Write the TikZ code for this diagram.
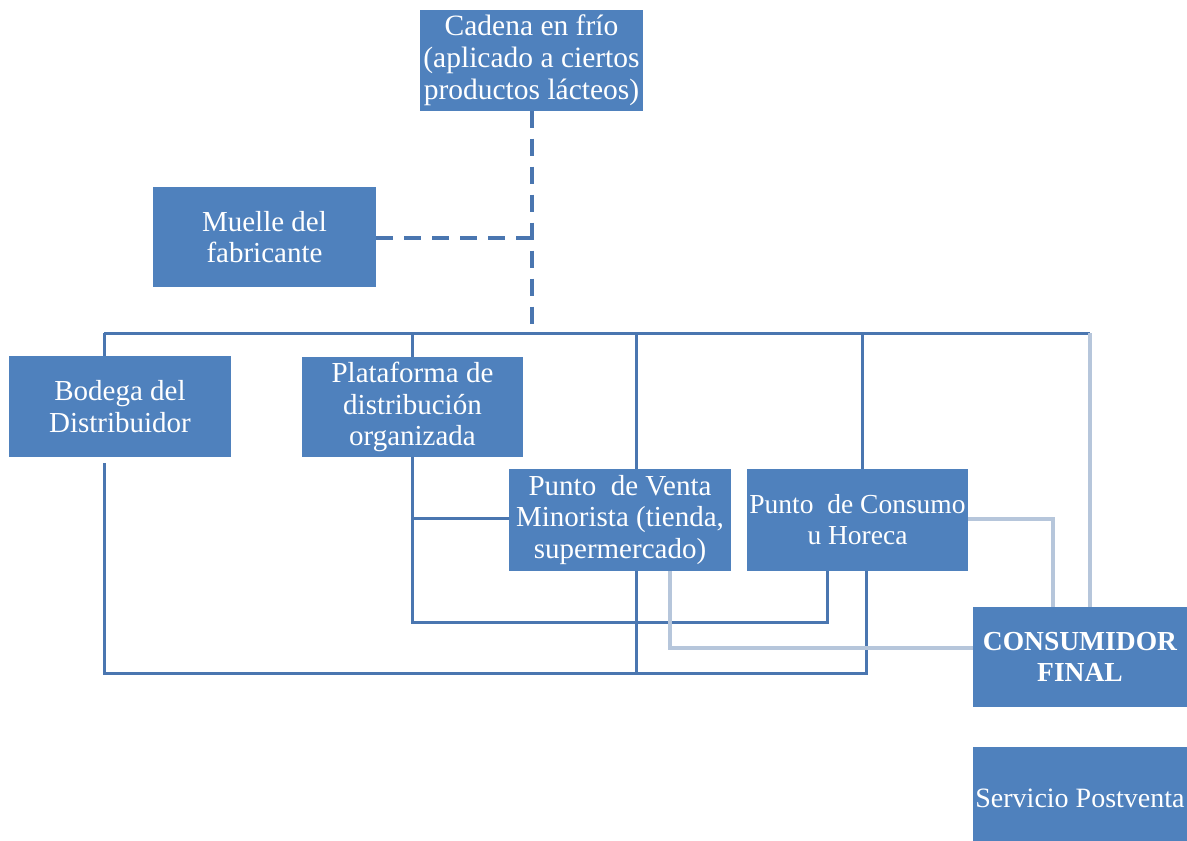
\documentclass[tikz,border=0pt]{standalone}
\usepackage{fontspec}
\setmainfont{Liberation Serif}
\definecolor{boxblue}{HTML}{4F81BD}
\definecolor{linkdark}{HTML}{4A76B0}
\definecolor{linklight}{HTML}{B6C6DB}
\tikzset{
  blockbox/.style={rectangle, fill=boxblue, text=white, align=center,
    inner sep=1pt, font=\fontsize{29}{31.5}\selectfont},
  bus/.style={draw=linkdark, line width=3pt},
  softlink/.style={draw=linklight, line width=4pt},
  coldlink/.style={draw=linkdark, line width=4pt, dash pattern=on 17pt off 11pt}
}
\begin{document}
\begin{tikzpicture}[x=1pt,y=-1pt]
\useasboundingbox (0,0) rectangle (1187,841);

% boxes
\node[blockbox, minimum width=223pt, minimum height=101pt,
      font=\fontsize{29.5}{32}\selectfont] (cadena) at (531.5,60)
  {Cadena en frío\\(aplicado a ciertos\\productos lácteos)};
\node[blockbox, minimum width=223pt, minimum height=100pt] (muelle) at (264.5,237)
  {Muelle del\\fabricante};
\node[blockbox, minimum width=222pt, minimum height=101pt] (bodega) at (120,406.5)
  {Bodega del\\Distribuidor};
\node[blockbox, minimum width=221pt, minimum height=100pt] (plataforma) at (412.5,407)
  {Plataforma de\\distribución\\organizada};
\node[blockbox, minimum width=222pt, minimum height=102pt] (venta) at (620,520)
  {Punto\ \ de Venta\\Minorista (tienda,\\supermercado)};
\node[blockbox, minimum width=221pt, minimum height=102pt,
      font=\fontsize{27.5}{31}\selectfont] (consumo) at (857.5,520)
  {Punto\ \ de Consumo\\u Horeca};
\node[blockbox, minimum width=214pt, minimum height=100pt,
      font=\fontsize{27.5}{31}\selectfont\bfseries] (consumidor) at (1080,657)
  {CONSUMIDOR\\FINAL};
\node[blockbox, minimum width=214pt, minimum height=103pt,
      font=\fontsize{28}{31}\selectfont] (postventa) at (1080,798.5)
  {Servicio Postventa};

% junction points of the distribution bus
\coordinate (busL) at (104,333);
\coordinate (busR) at (1090,333);
\coordinate (coldEnd) at (532,325);
\coordinate (coldJoin) at (532,238);
\coordinate (ventaTop) at (636,333);
\coordinate (consumoTop) at (862,333);
\coordinate (bodegaLow) at (104,463);
\coordinate (bottomL) at (104,673);
\coordinate (bottomR) at (866,673);
\coordinate (midL) at (412,622);
\coordinate (midR) at (827,622);
\coordinate (branch) at (412,518);
\coordinate (softA) at (670,648);
\coordinate (softB) at (1053,519);

% cold chain (dashed)
\draw[coldlink] (cadena.south -| coldEnd) -- (coldEnd);
\draw[coldlink] (muelle.east |- coldJoin) -- (coldJoin);

% upper bus and its drops
\draw[bus] (busL) -- (busR);
\draw[bus] (busL) -- (busL |- bodega.north);
\draw[bus] (plataforma.north |- busL) -- (plataforma.north);
\draw[bus] (ventaTop) -- (ventaTop |- venta.north);
\draw[bus] (consumoTop) -- (consumoTop |- consumo.north);

% lower circuits
\draw[bus] (bodegaLow) -- (bottomL) -- (bottomR) -- (bottomR |- consumo.south);
\draw[bus] (ventaTop |- venta.south) -- (ventaTop |- bottomL);
\draw[bus] (midL |- plataforma.south) -- (midL) -- (midR) -- (midR |- consumo.south);
\draw[bus] (branch) -- (venta.west |- branch);

% links into the final consumer
\draw[softlink] (softA |- venta.south) -- (softA) -- (consumidor.west |- softA);
\draw[softlink] (consumo.east |- softB) -- (softB) -- (softB |- consumidor.north);
\draw[softlink] (busR) -- (busR |- consumidor.north);
\end{tikzpicture}
\end{document}
